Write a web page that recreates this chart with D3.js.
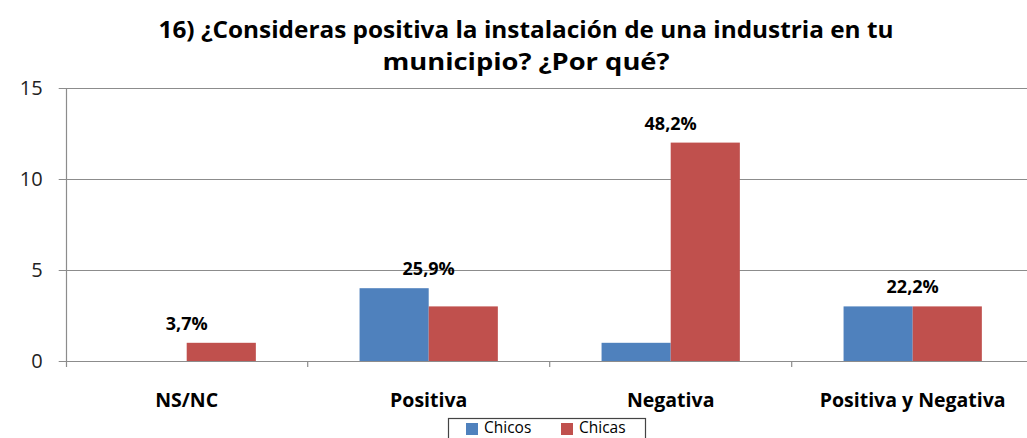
<!DOCTYPE html>
<html>
<head>
<meta charset="utf-8">
<script src="https://cdn.jsdelivr.net/npm/d3@7"></script>
<style>
  html, body { margin: 0; padding: 0; background: #fff; }
  svg { display: block; font-family: "Open Sans", "Liberation Sans", sans-serif; }
</style>
</head>
<body>
<svg id="chart" width="1027" height="438"></svg>
<script>
const titleLines = ["16) ¿Consideras positiva la instalación de una industria en tu", "municipio? ¿Por qué?"];
const categories = ["NS/NC", "Positiva", "Negativa", "Positiva y Negativa"];
const seriesNames = ["Chicos", "Chicas"];
const chicos = [0, 4, 1, 3];
const chicas = [1, 3, 12, 3];
const percentLabels = ["3,7%", "25,9%", "48,2%", "22,2%"];
const yTicks = [0, 5, 10, 15];
const colors = ["#4F81BD", "#C0504D"];

const svg = d3.select("#chart");
const plot = { left: 65.7, right: 1033.7, top: 88, bottom: 361 };

const x = d3.scaleBand().domain(categories).range([plot.left, plot.right]).paddingInner(0).paddingOuter(0);
const xs = d3.scaleBand().domain(seriesNames).range([0, x.bandwidth()]).paddingInner(0).paddingOuter(0.75);
const y = d3.scaleLinear().domain([0, 15]).range([plot.bottom, plot.top]);

// Title
svg.append("g").selectAll("text").data(titleLines).join("text")
  .attr("x", 526).attr("y", (d, i) => 38 + i * 32)
  .attr("text-anchor", "middle")
  .attr("font-size", 23).attr("font-weight", "bold").attr("fill", "#000")
  .attr("textLength", (d, i) => i === 0 ? 735 : 287)
  .attr("lengthAdjust", "spacingAndGlyphs")
  .text(d => d);

// Gridlines
svg.append("g").selectAll("line").data(yTicks).join("line")
  .attr("x1", plot.left - 7).attr("x2", plot.right)
  .attr("y1", d => Math.round(y(d)) + 0.5).attr("y2", d => Math.round(y(d)) + 0.5)
  .attr("stroke", "#8c8c8c").attr("stroke-width", 1.2);

// Y axis
const yAxis = d3.axisLeft(y).tickValues(yTicks).tickSize(0).tickPadding(23);
const yg = svg.append("g").attr("transform", `translate(${plot.left},0)`).call(yAxis);
yg.select(".domain").remove();
yg.selectAll("text").attr("font-size", 20).attr("fill", "#222").attr("font-family", "Open Sans, sans-serif");
svg.append("line").attr("x1", Math.round(plot.left) + 0.5).attr("x2", Math.round(plot.left) + 0.5)
  .attr("y1", plot.top).attr("y2", plot.bottom + 6).attr("stroke", "#8c8c8c").attr("stroke-width", 1.2);

// X category ticks
svg.append("g").selectAll("line").data(categories.slice(1)).join("line")
  .attr("x1", d => x(d)).attr("x2", d => x(d))
  .attr("y1", plot.bottom).attr("y2", plot.bottom + 6)
  .attr("stroke", "#8c8c8c").attr("stroke-width", 1.2);

// Bars
const data = categories.map((c, i) => ({ cat: c, vals: [chicos[i], chicas[i]] }));
const groups = svg.append("g").selectAll("g").data(data).join("g")
  .attr("transform", d => `translate(${x(d.cat)},0)`);
groups.selectAll("rect").data(d => d.vals.map((v, j) => ({ s: seriesNames[j], v, j })))
  .join("rect")
  .attr("x", d => xs(d.s)).attr("width", xs.bandwidth())
  .attr("y", d => y(d.v)).attr("height", d => plot.bottom - y(d.v))
  .attr("fill", d => colors[d.j]);

// Percent labels
svg.append("g").selectAll("text").data(data).join("text")
  .attr("x", d => x(d.cat) + x.bandwidth() / 2)
  .attr("y", d => y(d3.max(d.vals)) - 13)
  .attr("text-anchor", "middle")
  .attr("font-size", 18).attr("font-weight", "bold").attr("fill", "#000")
  .text((d, i) => percentLabels[i]);

// Category labels
svg.append("g").selectAll("text").data(categories).join("text")
  .attr("x", d => x(d) + x.bandwidth() / 2).attr("y", 407)
  .attr("text-anchor", "middle")
  .attr("font-size", 19.5).attr("font-weight", "bold").attr("fill", "#000")
  .text(d => d);

// Legend
const lg = svg.append("g");
lg.append("rect").attr("x", 448.5).attr("y", 418.5).attr("width", 197).attr("height", 30)
  .attr("fill", "#fff").attr("stroke", "#444").attr("stroke-width", 1.2);
const legendX = [466, 561];
seriesNames.forEach((s, i) => {
  lg.append("rect").attr("x", legendX[i]).attr("y", 423).attr("width", 12).attr("height", 12).attr("fill", colors[i]);
  lg.append("text").attr("x", legendX[i] + 18).attr("y", 433).attr("font-size", 15.5).attr("fill", "#000").text(s);
});
</script>
</body>
</html>
